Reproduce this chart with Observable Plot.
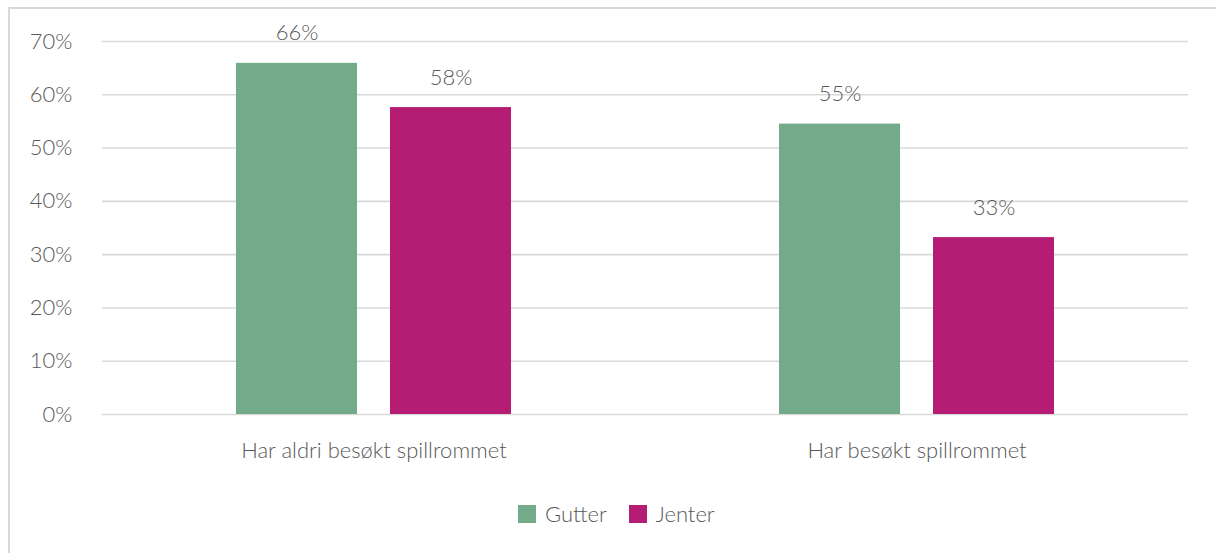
<!DOCTYPE html>
<html>
<head>
<meta charset="utf-8">
<script src="https://cdn.jsdelivr.net/npm/d3@7"></script>
<script src="https://cdn.jsdelivr.net/npm/@observablehq/plot@0.6"></script>
<style>
  html, body { margin: 0; padding: 0; background: #fff; overflow: hidden; }
  #frame {
    position: absolute; left: 8px; top: 7px;
    width: 1230px; height: 570px;
    border: 2px solid #d9d9d9;
    font-family: Lato, "Open Sans", sans-serif; font-weight: 300;
    color: #595959;
  }
  #legend {
    display: flex; align-items: center;
    margin-top: 24px; padding-left: 508px;
    font-size: 22px; line-height: 22px;
  }
  .item { display: flex; align-items: center; margin-right: 22px; }
  .sw { width: 18px; height: 18px; margin-right: 9px; }
</style>
</head>
<body>
<div id="frame">
  <div id="chart"></div>
  <div id="legend"></div>
</div>
<script>
const categories = ["Har aldri besøkt spillrommet", "Har besøkt spillrommet"];
const genders = ["Gutter", "Jenter"];
const gutterValues = [65.9, 54.5];
const jenterValues = [57.6, 33.2];
const yTicks = [0, 10, 20, 30, 40, 50, 60, 70];
const colors = ["#72aa8a", "#b51c74"];

const data = [];
categories.forEach((c, i) => {
  data.push({cat: c, gender: genders[0], value: gutterValues[i]});
  data.push({cat: c, gender: genders[1], value: jenterValues[i]});
});

const font = "Lato, 'Open Sans', sans-serif";

const chart = Plot.plot({
  width: 1206,
  height: 470,
  marginLeft: 91,
  marginRight: 28,
  marginTop: 32,
  marginBottom: 65,
  style: {fontFamily: font, fontWeight: 300, fontSize: "22px", color: "#595959", background: "transparent"},
  fx: {domain: categories, padding: 0, label: null},
  x: {domain: genders, paddingInner: 0.2129, paddingOuter: 0.8597, axis: null},
  y: {domain: [0, 70], label: null},
  color: {domain: genders, range: colors},
  marks: [
    Plot.gridY(yTicks, {stroke: "#d9d9d9", strokeOpacity: 1, strokeWidth: 1.6}),
    Plot.axisY(yTicks, {tickSize: 0, tickPadding: 30, tickFormat: d => d + "%", fontSize: 22, label: null}),
    Plot.axisFx({anchor: "bottom", tickSize: 0, tickPadding: 28, fontSize: 22, label: null}),
    Plot.barY(data, {fx: "cat", x: "gender", y: "value", fill: "gender"}),
    Plot.text(data, {fx: "cat", x: "gender", y: "value", text: d => d3.format(".0f")(d.value) + "%",
      lineAnchor: "bottom", dy: -23, fontSize: 22, fill: "#595959"})
  ]
});
document.getElementById("chart").appendChild(chart);

const legend = document.getElementById("legend");
genders.forEach((g, i) => {
  const item = document.createElement("div");
  item.className = "item";
  const sw = document.createElement("div");
  sw.className = "sw";
  sw.style.background = colors[i];
  const t = document.createElement("span");
  t.textContent = g;
  item.appendChild(sw);
  item.appendChild(t);
  legend.appendChild(item);
});
</script>
</body>
</html>
